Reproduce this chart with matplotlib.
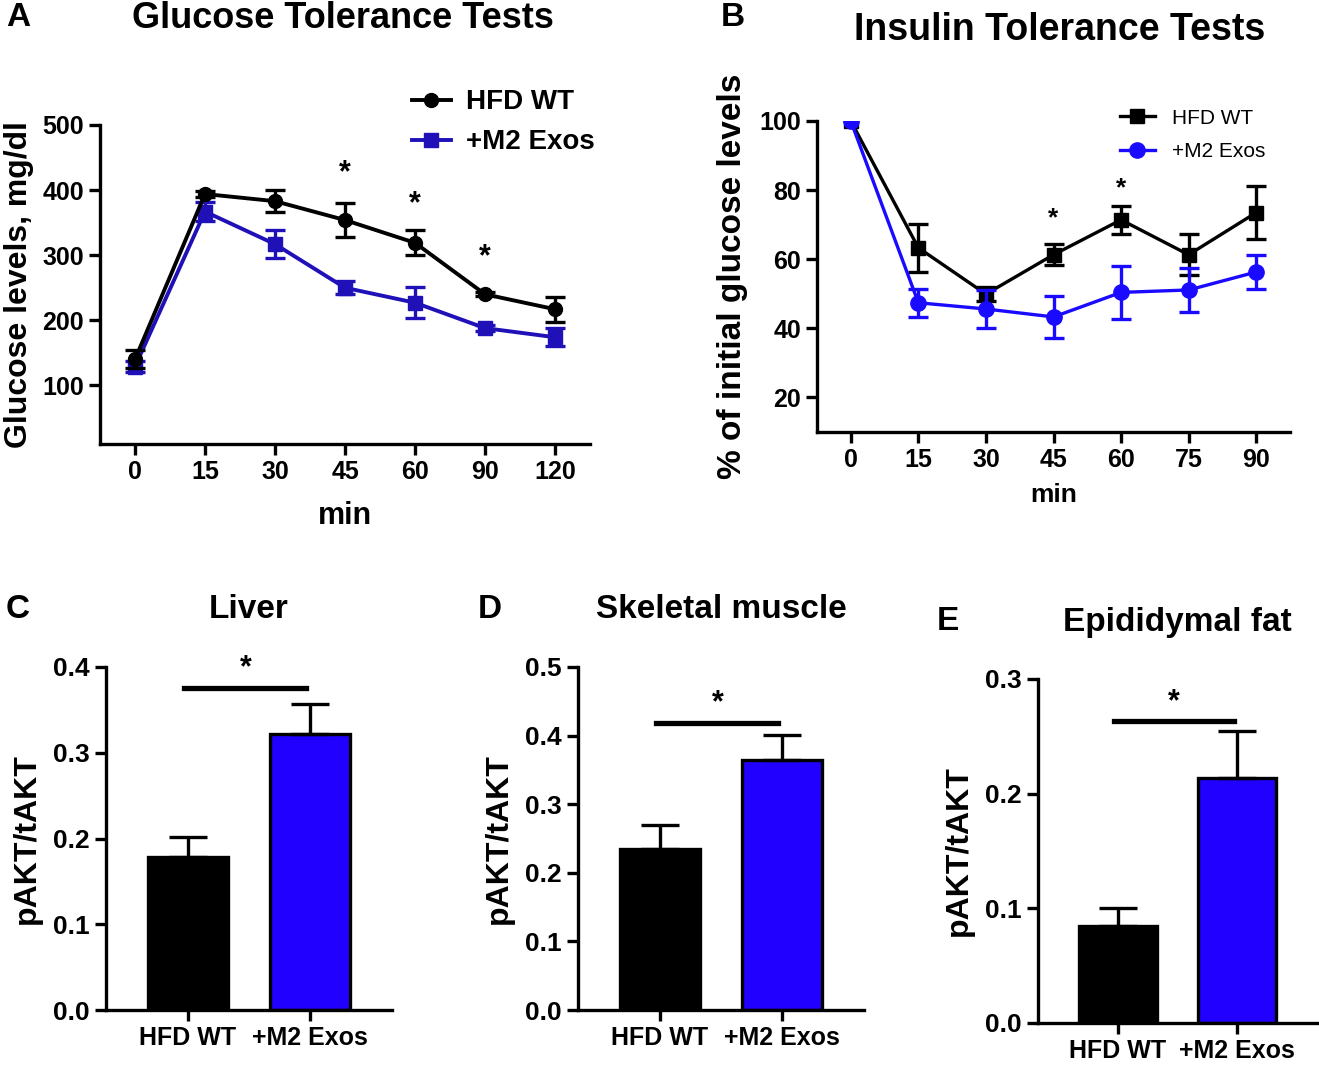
import numpy as np
import matplotlib
matplotlib.use('Agg')
import matplotlib.pyplot as plt

plt.rcParams['font.family'] = ['Liberation Sans', 'DejaVu Sans']
plt.rcParams['font.weight'] = 'bold'
plt.rcParams['axes.labelweight'] = 'bold'

# ---------------- data ----------------
# A: glucose tolerance test
gtt_time = ['0', '15', '30', '45', '60', '90', '120']
gtt_wt = [140, 394, 383, 354, 319, 240, 217]
gtt_wt_err = [14, 5, 17, 26, 19, 3, 19]
gtt_m2 = [129, 367, 317, 250, 227, 188, 174]
gtt_m2_err = [8, 15, 21, 10, 24, 5, 14]
gtt_star_idx = [3, 4, 5]
gtt_star_y = [426, 379, 297]

# B: insulin tolerance test
itt_time = [0, 15, 30, 45, 60, 75, 90]
itt_wt = [100, 63.3, 49.9, 61.3, 71.4, 61.3, 73.5]
itt_wt_err = [0, 7, 2, 3, 4, 6, 7.7]
itt_m2 = [100, 47.4, 45.6, 43.3, 50.4, 51.1, 56.3]
itt_m2_err = [0, 4, 5.4, 6, 7.6, 6.3, 5]
itt_star_x = [45, 60]
itt_star_y = [71.7, 80.6]

# C-E: pAKT/tAKT
groups = ['HFD WT', '+M2 Exos']
liver = [0.179, 0.322]
liver_err = [0.023, 0.035]
muscle = [0.234, 0.365]
muscle_err = [0.035, 0.036]
fat = [0.085, 0.214]
fat_err = [0.015, 0.041]

blue_a = '#1f10b8'
blue_b = '#1a0aff'
blue_bar = '#2200ff'

W, H = 1319, 1066
fig = plt.figure(figsize=(W / 100, H / 100), dpi=100)


def frame(ax, size, lw=2.4):
    for s in ['top', 'right']:
        ax.spines[s].set_visible(False)
    for s in ['left', 'bottom']:
        ax.spines[s].set_linewidth(lw)
    ax.tick_params(width=lw, length=8, labelsize=size)


def px_axes(l, r, t, b):
    return fig.add_axes([l / W, 1 - b / H, (r - l) / W, (b - t) / H])


def series(ax, x, y, err, color, marker, ms, lw, label, z, skip0=False):
    ax.plot(x, y, color=color, marker=marker, ms=ms, lw=lw, label=label, zorder=z)
    x = np.asarray(x)
    y = np.asarray(y)
    err = np.asarray(err)
    sel = slice(1, None) if skip0 else slice(None)
    ax.errorbar(x[sel], y[sel], yerr=err[sel], fmt='none', ecolor=color,
                elinewidth=2.4, capsize=7, capthick=2.4, zorder=z)


# ---------------- A ----------------
axA = px_axes(100, 590, 125, 444)
xa = np.arange(len(gtt_time))
series(axA, xa, gtt_wt, gtt_wt_err, 'black', 'o', 10, 2.8, 'HFD WT', 3)
series(axA, xa, gtt_m2, gtt_m2_err, blue_a, 's', 10, 2.8, '+M2 Exos', 2)
for i, y in zip(gtt_star_idx, gtt_star_y):
    axA.text(xa[i], y, '*', ha='center', va='center', fontsize=22)
axA.set_xlim(-0.5, 6.5)
axA.set_ylim(10, 500)
axA.set_yticks([100, 200, 300, 400, 500])
axA.set_xticks(xa)
axA.set_xticklabels(gtt_time)
axA.set_xlabel('min', fontsize=22, labelpad=12)
axA.set_ylabel('Glucose levels, mg/dl', fontsize=23, labelpad=6)
frame(axA, 18)
axA.legend(loc='upper left', bbox_to_anchor=(0.585, 1.19), frameon=False,
           prop={'size': 20, 'weight': 'bold'},
           handlelength=1.4, labelspacing=0.5, handletextpad=0.55)
fig.text(343 / W, 1 - 18 / H, 'Glucose Tolerance Tests', ha='center', va='center', fontsize=26)
fig.text(18 / W, 1 - 18 / H, 'A', ha='center', va='center', fontsize=24)

# ---------------- B ----------------
axB = px_axes(817, 1290, 121, 432)
series(axB, itt_time, itt_wt, itt_wt_err, 'black', 's', 10, 2.4, 'HFD WT', 2, skip0=True)
series(axB, itt_time, itt_m2, itt_m2_err, blue_b, 'o', 11, 2.4, '+M2 Exos', 3, skip0=True)
for x, y in zip(itt_star_x, itt_star_y):
    axB.text(x, y, '*', ha='center', va='center', fontsize=19)
axB.set_xlim(-7.5, 97.5)
axB.set_ylim(10, 100)
axB.set_yticks([20, 40, 60, 80, 100])
axB.set_xticks(itt_time)
axB.set_xlabel('min', fontsize=19, labelpad=8)
axB.set_ylabel('% of initial glucose levels', fontsize=24, labelpad=8)
frame(axB, 18)
axB.legend(loc='upper left', bbox_to_anchor=(0.6, 1.1), frameon=False,
           prop={'size': 15, 'weight': 'normal'},
           handlelength=1.7, labelspacing=0.7, handletextpad=0.8)
fig.text(1060 / W, 1 - 30 / H, 'Insulin Tolerance Tests', ha='center', va='center', fontsize=27)
fig.text(733 / W, 1 - 18 / H, 'B', ha='center', va='center', fontsize=24)


# ---------------- C-E ----------------
def bar_panel(l, r, t, b, vals, errs, ymax, step, sig_y, star_y, title, letter, lx, ty):
    ax = px_axes(l, r, t, b)
    xb = np.arange(len(groups))
    ax.bar(xb, vals, width=0.65, color=['black', blue_bar], edgecolor='black', linewidth=2.4)
    ax.errorbar(xb, vals, yerr=[[0, 0], errs], fmt='none', ecolor='black',
                elinewidth=2.4, capsize=14, capthick=2.4)
    ax.plot([-0.03, 0.97], [sig_y, sig_y], color='black', lw=3.8)
    ax.text(0.47, star_y, '*', ha='center', va='center', fontsize=22)
    ax.set_xlim(-0.67, 1.67)
    ax.set_ylim(0, ymax)
    ax.set_yticks(np.round(np.arange(0, ymax + step / 2, step), 2))
    ax.yaxis.set_major_formatter(matplotlib.ticker.FormatStrFormatter('%.1f'))
    ax.set_xticks(xb)
    ax.set_xticklabels(groups)
    ax.set_ylabel('pAKT/tAKT', fontsize=23, labelpad=8)
    frame(ax, 19)
    ax.tick_params(axis='x', labelsize=18)
    fig.text((l + r) / 2 / W, 1 - ty / H, title, ha='center', va='center', fontsize=24)
    fig.text(lx / W, 1 - ty / H, letter, ha='center', va='center', fontsize=24)
    return ax


bar_panel(106, 392, 667, 1010, liver, liver_err, 0.4, 0.1, 0.376, 0.398,
          'Liver', 'C', 18, 610)
bar_panel(578, 864, 667, 1010, muscle, muscle_err, 0.5, 0.1, 0.419, 0.447,
          'Skeletal muscle', 'D', 490, 610)
bar_panel(1038, 1317, 679, 1023, fat, fat_err, 0.3, 0.1, 0.2636, 0.28,
          'Epididymal fat', 'E', 948, 622)

plt.savefig('out.png', dpi=100)
